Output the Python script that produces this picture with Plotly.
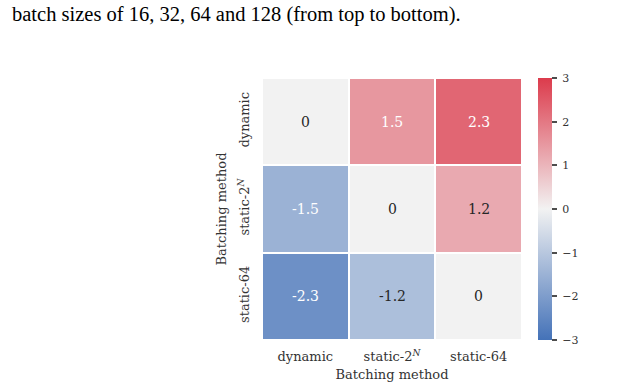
import plotly.graph_objects as go

methods = ["dynamic", "static-2<sup><i>N</i></sup>", "static-64"]
values = [
    [0, 1.5, 2.3],
    [-1.5, 0, 1.2],
    [-2.3, -1.2, 0],
]
value_labels = [["0", "1.5", "2.3"], ["-1.5", "0", "1.2"], ["-2.3", "-1.2", "0"]]
cbar_ticks = [-3, -2, -1, 0, 1, 2, 3]
cbar_labels = ["−3", "−2", "−1", "0", "1", "2", "3"]
caption = "batch sizes of 16, 32, 64 and 128 (from top to bottom)."

colorscale = [
    [0.0, "#4472b8"],
    [0.5, "#f2f2f2"],
    [1.0, "#dc3b4c"],
]

FONT = "DejaVu Serif"

fig = go.Figure()
fig.add_trace(go.Heatmap(
    z=values,
    x=methods,
    y=methods,
    zmin=-3, zmax=3,
    colorscale=colorscale,
    xgap=2, ygap=2,
    showscale=True,
    colorbar=dict(
        x=1.06, xanchor="left", xref="paper",
        y=1.0, yanchor="top", len=1.0, lenmode="fraction",
        thickness=14, ypad=0, xpad=0,
        outlinewidth=0,
        tickvals=cbar_ticks, ticktext=[" " + t for t in cbar_labels],
        ticks="outside", ticklen=5, tickwidth=2, tickcolor="#4d4d4d",
        tickfont=dict(family=FONT, size=11, color="#333333"),
    ),
    hoverinfo="skip",
))

for i, row in enumerate(values):
    for j, v in enumerate(row):
        fig.add_annotation(
            x=methods[j], y=methods[i], text=value_labels[i][j],
            showarrow=False,
            font=dict(family=FONT, size=14,
                      color="#ffffff" if abs(v) >= 1.5 else "#262626"),
        )

fig.add_annotation(
    xref="paper", yref="paper", x=-262/260 + 10/260, y=1 + (78-14)/262,
    xanchor="left", yanchor="middle", showarrow=False,
    text=caption,
    font=dict(family="Liberation Serif", size=20.5, color="#000000"),
)

fig.update_xaxes(
    showgrid=False, zeroline=False, showline=False, ticks="",
    ticklabelstandoff=7,
    tickfont=dict(family=FONT, size=13, color="#333333"),
    title=dict(text="Batching method", font=dict(family=FONT, size=13, color="#333333"), standoff=6),
    constrain="domain",
)
fig.update_yaxes(
    showgrid=False, zeroline=False, showline=False, ticks="",
    autorange="reversed", tickangle=-90,
    ticklabelstandoff=9,
    tickfont=dict(family=FONT, size=13, color="#333333"),
    title=dict(text="Batching method", font=dict(family=FONT, size=13, color="#333333"), standoff=6),
)

fig.update_layout(
    width=644, height=390,
    margin=dict(l=262, r=122, t=78, b=50),
    paper_bgcolor="white", plot_bgcolor="white",
    showlegend=False,
)

fig.write_html("out.html")
